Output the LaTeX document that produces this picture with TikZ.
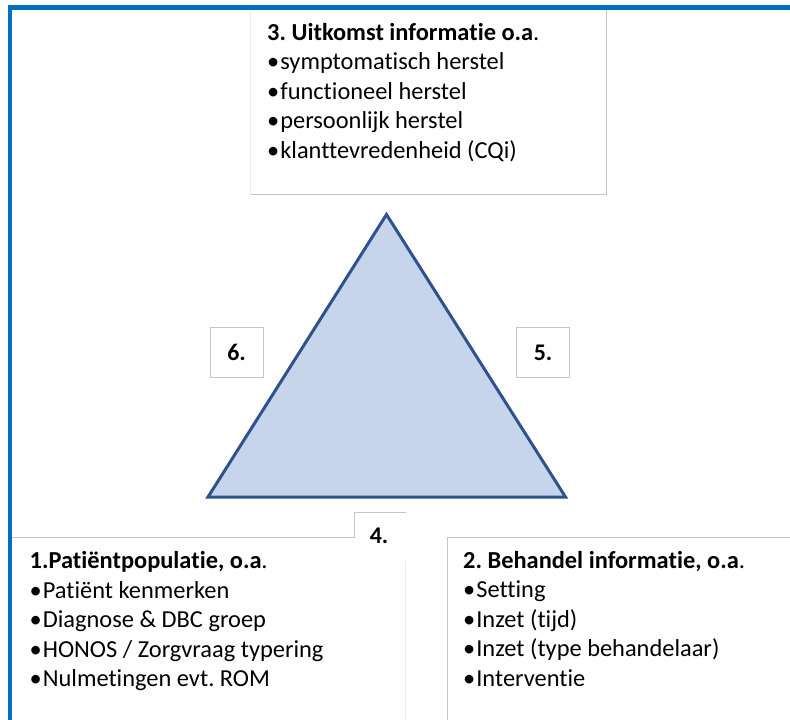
\documentclass[tikz,border=0pt]{standalone}
\usepackage{fontspec}
\setmainfont{Carlito}[Ligatures=NoCommon]
\frenchspacing
\definecolor{frameblue}{RGB}{0,112,192}
\definecolor{edgegray}{RGB}{198,198,198}
\definecolor{faintgray}{RGB}{236,236,236}
\definecolor{trifill}{RGB}{198,212,236}
\definecolor{triedge}{RGB}{47,82,143}
\newcommand{\itembullet}{•\kern1bp}
\begin{document}
\begin{tikzpicture}[x=1bp,y=-1bp,
  tline/.style={anchor=base west, inner sep=0pt, font=\fontsize{24.5}{29}\selectfont},
  numlabel/.style={inner sep=0pt, font=\fontsize{24}{29}\selectfont\bfseries},
  panelbox/.style={fill=white, draw=none, inner sep=0pt, anchor=north west},
  rim/.style={draw=edgegray, line width=1bp},
  faintrim/.style={draw=faintgray, line width=1bp},
  numbox/.style={draw=edgegray, line width=1bp, fill=white, inner sep=0pt,
    minimum width=53bp, minimum height=50bp},
]
\useasboundingbox (0,0) rectangle (790,720);
\fill[white] (0,0) rectangle (790,720);

% outcome panel (top)
\node[panelbox, minimum width=356bp, minimum height=184.5bp] (outcome) at (250.5,10) {};
\draw[rim] (outcome.north east) -- (outcome.south east) -- (outcome.south west);
\draw[faintrim] (outcome.south west) -- (outcome.north west);

% population panel (bottom left)
\node[panelbox, minimum width=393bp, minimum height=200bp] (population) at (12,537.5) {};
\draw[rim] (population.north west) -- (population.north east);
\draw[faintrim] (population.north east) -- (population.south east);

% small label box 4 lies over the corner of the population panel
\node[panelbox, minimum width=51bp, minimum height=48.5bp] (fourbox) at (354.5,512.5) {};
\draw[rim] (fourbox.south west |- population.north) -- (fourbox.north west) -- (fourbox.north east);

% treatment panel (bottom right)
\node[panelbox, minimum width=360bp, minimum height=200bp] (treatment) at (447.5,537.5) {};
\draw[rim] (treatment.south west) -- (treatment.north west) -- (treatment.north east);

% triangle
\coordinate (apex) at (386.5,214.5);
\coordinate (baseL) at (208,497);
\coordinate (baseR) at (565.5,497);
\draw[fill=trifill, draw=triedge, line width=3bp, line join=miter]
  (apex) -- (baseR) -- (baseL) -- cycle;

% side label boxes
\node[numbox] (six) at (236.5,352.5) {};
\node[numbox] (five) at (543,352.5) {};
\node[numlabel] (sixlbl) at (six.center) {6.};
\node[numlabel] (fivelbl) at (five.center) {5.};
\node[numlabel] (fourlbl) at (379,536) {4.};

% texts
\foreach \t [count=\i from 0] in {%
  {\bfseries 3. Uitkomst informatie o.a}.,
  \itembullet symptomatisch herstel,
  \itembullet functioneel herstel,
  \itembullet persoonlijk herstel,
  \itembullet klanttevredenheid (CQi)}
  \node[tline] (outtxt\i) at (267,40.5+29.5*\i) {\t};

\foreach \t [count=\i from 0] in {%
  {\bfseries 1.Patiëntpopulatie, o.a}.,
  \itembullet Patiënt kenmerken,
  \itembullet Diagnose \& DBC groep,
  \itembullet HONOS / Zorgvraag typering,
  \itembullet Nulmetingen evt. ROM}
  \node[tline] (poptxt\i) at (29.5,568.5+29.5*\i) {\t};

\foreach \t [count=\i from 0] in {%
  {\bfseries 2. Behandel informatie, o.a}.,
  \itembullet Setting,
  \itembullet Inzet (tijd),
  \itembullet Inzet (type behandelaar),
  \itembullet Interventie}
  \node[tline] (behtxt\i) at (463,568+29.5*\i) {\t};

% blue frame on top and left
\fill[frameblue] (8,5) rectangle (790,10);
\fill[frameblue] (8,5) rectangle (12,720);
\end{tikzpicture}
\end{document}
